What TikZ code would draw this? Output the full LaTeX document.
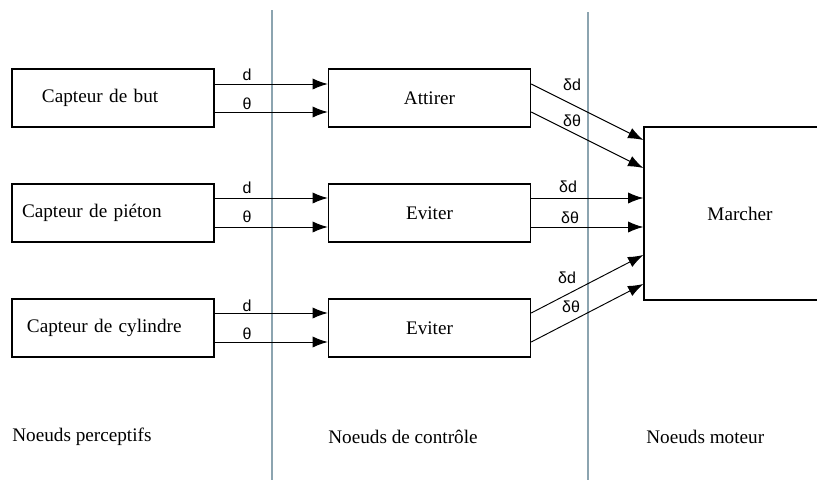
\documentclass[tikz,border=0pt]{standalone}
\usepackage{fontspec}
\setmainfont{Liberation Serif}
\newfontfamily\labfont{Liberation Sans}
\usetikzlibrary{arrows.meta}
\definecolor{sepgray}{RGB}{140,164,176}

\begin{document}
\begin{tikzpicture}[x=0.625pt, y=-0.625pt]
	% Define styles
	\tikzstyle{box} = [rectangle, draw=black, line width=0.9pt, minimum width=126.25pt, minimum height=36.25pt, inner ysep=0pt, font=\fontsize{12}{14}\selectfont]
	\tikzstyle{arrow} = [line width=0.6pt, -{Latex[length=9.5pt,width=7pt]}]
	\tikzstyle{lab} = [inner sep=0pt, font=\labfont\fontsize{10}{12}\selectfont]
	\tikzstyle{zone} = [inner sep=0pt, anchor=west, font=\fontsize{12}{14}\selectfont]
	\tikzstyle{sep} = [draw=sepgray, line width=1pt]

	\useasboundingbox (0,0) rectangle (817,480);

	% Separators
	\draw[sep] (272,10) -- (272,480);
	\draw[sep] (588,12) -- (588,480);

	% Nodes
	\node[box, align=left, text width=88.75pt, inner xsep=18.75pt] (but) at (113,98) {Capteur de but};
	\node[box, align=left, text width=113.75pt, inner xsep=6.25pt] (pieton) at (113,213) {Capteur de pi\'eton};
	\node[box, align=left, text width=107.5pt, inner xsep=9.375pt] (cylindre) at (113,328) {Capteur de cylindre};
	\node[box] (attirer) at (429.5,98) {Attirer};
	\node[box] (eviterp) at (429.5,213) {Eviter};
	\node[box] (eviterc) at (429.5,328) {Eviter};
	% right side runs past the page edge
	\node[box, minimum width=120pt, minimum height=108.2pt] (marcher) at (740,213.5) {Marcher};

	% Arrows
	\draw[arrow] (but.east |- 0,84) -- (attirer.west |- 0,84);
	\draw[arrow] (but.east |- 0,112) -- (attirer.west |- 0,112);
	\draw[arrow] (pieton.east |- 0,198) -- (eviterp.west |- 0,198);
	\draw[arrow] (pieton.east |- 0,227) -- (eviterp.west |- 0,227);
	\draw[arrow] (cylindre.east |- 0,313) -- (eviterc.west |- 0,313);
	\draw[arrow] (cylindre.east |- 0,342) -- (eviterc.west |- 0,342);
	\draw[arrow] (attirer.east |- 0,84) -- (marcher.west |- 0,140);
	\draw[arrow] (attirer.east |- 0,112) -- (marcher.west |- 0,168);
	\draw[arrow] (eviterp.east |- 0,198) -- (marcher.west |- 0,198);
	\draw[arrow] (eviterp.east |- 0,227) -- (marcher.west |- 0,227);
	\draw[arrow] (eviterc.east |- 0,313) -- (marcher.west |- 0,255);
	\draw[arrow] (eviterc.east |- 0,342) -- (marcher.west |- 0,284);

	% Labels
	\node[lab] (d1) at (247,75) {d};
	\node[lab] (t1) at (247,104) {θ};
	\node[lab] (d2) at (247,188) {d};
	\node[lab] (t2) at (247,217) {θ};
	\node[lab] (d3) at (247,306) {d};
	\node[lab] (t3) at (247,334) {θ};
	\node[lab] (dd1) at (572,85) {δd};
	\node[lab] (dt1) at (572,121) {δθ};
	\node[lab] (dd2) at (568,187) {δd};
	\node[lab] (dt2) at (570,218) {δθ};
	\node[lab] (dd3) at (567,278) {δd};
	\node[lab] (dt3) at (571,307) {δθ};

	% Zones
	\node[zone] (perc) at (12,437) {Noeuds perceptifs};
	\node[zone] (ctrl) at (328,437) {Noeuds de contr\^ole};
	\node[zone] (mot) at (646,437) {Noeuds moteur};
\end{tikzpicture}
\end{document}
